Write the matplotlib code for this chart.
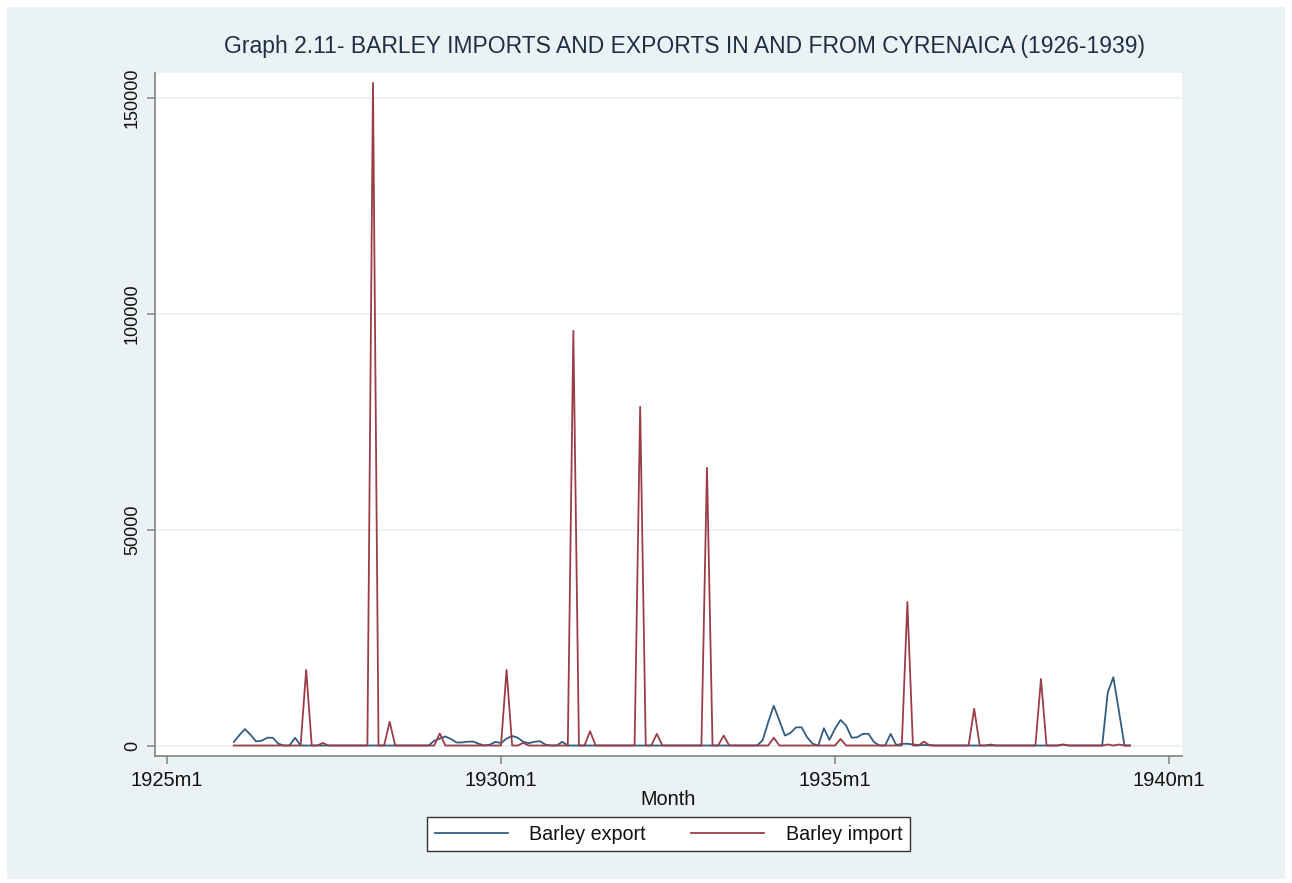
import matplotlib
matplotlib.use("Agg")
import matplotlib.pyplot as plt
from matplotlib.patches import Rectangle
import numpy as np

plt.rcParams['font.family'] = ['Liberation Sans', 'DejaVu Sans']

# month index: 0 = 1925m1 ; data run 1926m1 (12) .. 1939m6 (173)
start_month = 12

barley_export = [
    # 1926
    800, 2400, 3800, 2500, 950, 1100, 1800, 1800, 400, 0, 0, 1800,
    # 1927
    0, 0, 0, 0, 0, 0, 0, 0, 0, 0, 0, 0,
    # 1928
    0, 0, 0, 0, 0, 0, 0, 0, 0, 0, 0, 0,
    # 1929
    1100, 1600, 2100, 1500, 700, 700, 900, 900, 400, 0, 200, 850,
    # 1930
    550, 1600, 2200, 1800, 850, 550, 850, 1000, 200, 0, 0, 850,
    # 1931
    0, 0, 0, 0, 0, 0, 0, 0, 0, 0, 0, 0,
    # 1932
    0, 0, 0, 0, 0, 0, 0, 0, 0, 0, 0, 0,
    # 1933
    0, 0, 0, 0, 0, 0, 0, 0, 0, 0, 0, 1200,
    # 1934
    5400, 9200, 5800, 2300, 2900, 4200, 4200, 1900, 400, 0, 4000, 1300,
    # 1935
    3900, 5900, 4600, 1800, 1900, 2700, 2700, 800, 0, 0, 2700, 100,
    # 1936
    400, 400, 250, 100, 100, 100, 0, 0, 0, 0, 0, 0,
    # 1937
    0, 0, 0, 0, 0, 0, 0, 0, 0, 0, 0, 0,
    # 1938
    0, 0, 0, 0, 0, 200, 0, 0, 0, 0, 0, 0,
    # 1939
    0, 12300, 15800, 8000, 0, 0,
]

barley_import = [
    # 1926
    0, 0, 0, 0, 0, 0, 0, 0, 0, 0, 0, 0,
    # 1927
    0, 17500, 0, 0, 600, 0, 0, 0, 0, 0, 0, 0,
    # 1928
    0, 153400, 0, 0, 5500, 0, 0, 0, 0, 0, 0, 0,
    # 1929
    0, 2800, 0, 0, 0, 0, 0, 0, 0, 0, 0, 0,
    # 1930
    0, 17500, 0, 0, 600, 0, 0, 0, 0, 0, 0, 0,
    # 1931
    0, 96000, 0, 0, 3300, 0, 0, 0, 0, 0, 0, 0,
    # 1932
    0, 78400, 0, 0, 2700, 0, 0, 0, 0, 0, 0, 0,
    # 1933
    0, 64300, 0, 0, 2300, 0, 0, 0, 0, 0, 0, 0,
    # 1934
    0, 1800, 0, 0, 0, 0, 0, 0, 0, 0, 0, 0,
    # 1935
    0, 1500, 0, 0, 0, 0, 0, 0, 0, 0, 0, 0,
    # 1936
    0, 33200, 0, 0, 900, 0, 0, 0, 0, 0, 0, 0,
    # 1937
    0, 8500, 0, 0, 230, 0, 0, 0, 0, 0, 0, 0,
    # 1938
    0, 15400, 0, 0, 0, 230, 0, 0, 0, 0, 0, 0,
    # 1939
    0, 230, 0, 230, 0, 0,
]

x_ticks = [0, 60, 120, 180]
x_tick_labels = ["1925m1", "1930m1", "1935m1", "1940m1"]
y_ticks = [0, 50000, 100000, 150000]
y_tick_labels = ["0", "50000", "100000", "150000"]

months = np.arange(start_month, start_month + len(barley_export))

BG = "#EAF2F3"
W, H = 1292, 883
fig = plt.figure(figsize=(W / 100, H / 100), dpi=100, facecolor="white")
fig.patches.append(Rectangle((7 / W, 4 / H), 1278 / W, 872 / H, transform=fig.transFigure,
                             facecolor=BG, edgecolor="none", zorder=-10))

ax = fig.add_axes([155 / W, 1 - 756 / H, (1182 - 155) / W, (756 - 73) / H])
ax.set_facecolor("white")

ax.plot(months, barley_export, color="#325D82", lw=1.3, label="Barley export", zorder=3)
ax.plot(months, barley_import, color="#9B3D48", lw=1.3, label="Barley import", zorder=3)

px_per_month = (1169 - 167) / 180.0
ax.set_xlim(-(167 - 155) / px_per_month, (1182 - 167) / px_per_month)
units_per_px = 150000 / (745.5 - 97.5)
ax.set_ylim(-(756 - 745.5) * units_per_px, (745.5 - 73) * units_per_px)

ax.set_xticks(x_ticks)
ax.set_xticklabels(x_tick_labels)
ax.set_yticks(y_ticks)
ax.set_yticklabels(y_tick_labels, rotation=90, va="center")

for s in ["top", "right"]:
    ax.spines[s].set_visible(False)
for s in ["left", "bottom"]:
    ax.spines[s].set_color("#8A8A8A")
    ax.spines[s].set_linewidth(1.3)

ax.tick_params(axis="both", direction="out", length=6, width=1.2, color="#8A8A8A",
               labelcolor="#111111")
ax.tick_params(axis="x", labelsize=14.5, pad=4.5)
ax.tick_params(axis="y", labelsize=13, pad=4)

ax.grid(axis="y", color=BG, lw=1.4, zorder=0)
ax.set_axisbelow(True)

ax.set_xlabel("Month", fontsize=14.3, color="#111111", labelpad=0)

fig.text(684 / W, 1 - 46 / H,
         "Graph 2.11- BARLEY IMPORTS AND EXPORTS IN AND FROM CYRENAICA (1926-1939)",
         ha="center", va="center", fontsize=16.5, color="#1E2F45")

leg = fig.legend(loc="center", bbox_to_anchor=(668.5 / W, 1 - 834 / H), ncol=2,
                 fontsize=14.2, frameon=True, fancybox=False, framealpha=1.0,
                 handlelength=3.7, columnspacing=2.33, handletextpad=1.07,
                 borderpad=0.38, borderaxespad=0.0)
leg.get_frame().set_edgecolor("#333333")
leg.get_frame().set_linewidth(1.0)
leg.get_frame().set_facecolor("white")
for t in leg.get_texts():
    t.set_color("#111111")

fig.savefig("out.png", dpi=100, facecolor="white")
